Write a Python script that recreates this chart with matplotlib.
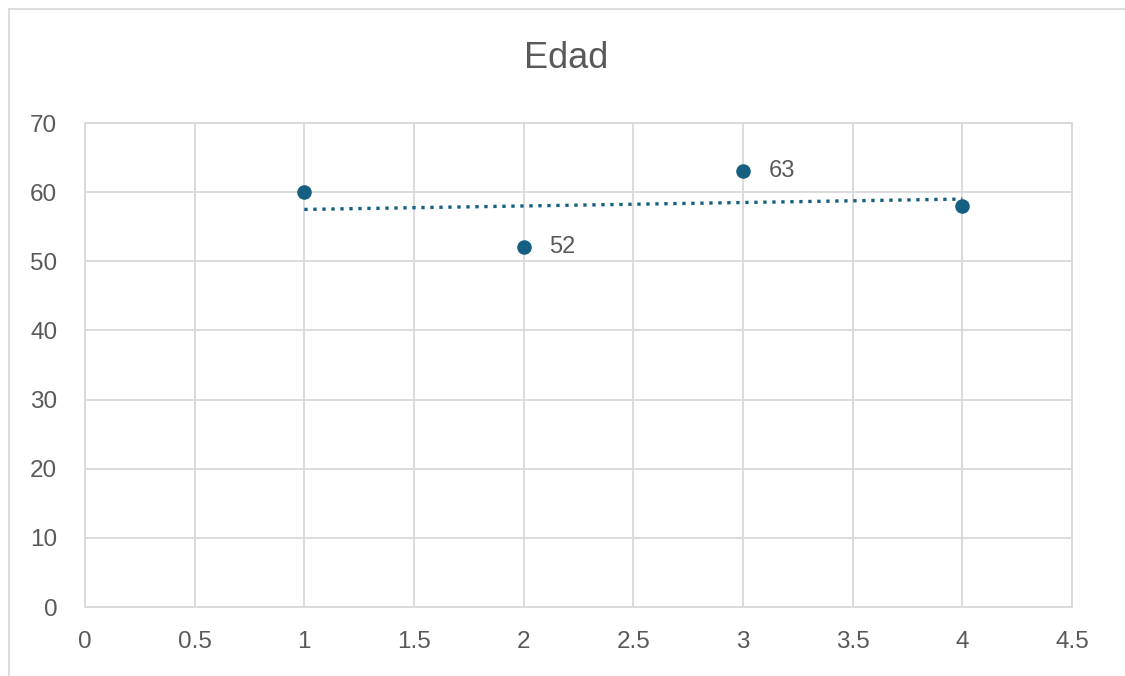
import matplotlib
matplotlib.use("Agg")
import matplotlib.pyplot as plt
from matplotlib.lines import Line2D
import numpy as np

plt.rcParams['font.family'] = ['Liberation Sans', 'DejaVu Sans']

title = "Edad"
x_vals = [1, 2, 3, 4]
y_vals = [60, 52, 63, 58]
labels = [None, "52", "63", None]
x_ticks = [0, 0.5, 1, 1.5, 2, 2.5, 3, 3.5, 4, 4.5]
x_tick_labels = ["0", "0.5", "1", "1.5", "2", "2.5", "3", "3.5", "4", "4.5"]
y_ticks = [0, 10, 20, 30, 40, 50, 60, 70]

color = "#156082"
text_color = "#595959"
grid_color = "#d9d9d9"

fig = plt.figure(figsize=(11.25, 6.76), dpi=100)
ax = fig.add_axes([85/1125, 1-607/676, (1072-85)/1125, (607-123)/676])

ax.scatter(x_vals, y_vals, s=110, color=color, zorder=3, linewidths=0)

# linear trendline
coef = np.polyfit(x_vals, y_vals, 1)
tx = np.array([min(x_vals), max(x_vals)])
ax.plot(tx, np.polyval(coef, tx), linestyle=(0, (1, 1.7)), color=color, lw=2.4, zorder=2)

for xv, yv, lab in zip(x_vals, y_vals, labels):
    if lab:
        ax.annotate(lab, (xv, yv), xytext=(18.5, 0), textcoords="offset points",
                    va="center", ha="left", fontsize=17, color=text_color)

ax.set_xlim(0, 4.5)
ax.set_ylim(0, 70)
ax.set_xticks(x_ticks)
ax.set_xticklabels(x_tick_labels)
ax.set_yticks(y_ticks)
ax.grid(True, color=grid_color, lw=1.3)
ax.set_axisbelow(True)
for s in ax.spines.values():
    s.set_color(grid_color)
    s.set_linewidth(1.3)
ax.tick_params(axis="both", length=0, labelsize=17.5, colors=text_color)
ax.tick_params(axis="y", pad=20)
ax.tick_params(axis="x", pad=17)

fig.text(566/1125, 1-59/676, title, ha="center", va="center", fontsize=26, color=text_color)

# outer chart border (left and top)
fig.add_artist(Line2D([9/1125, 9/1125], [0, 1-9/676], transform=fig.transFigure, color=grid_color, lw=1.3))
fig.add_artist(Line2D([9/1125, 1], [1-9/676, 1-9/676], transform=fig.transFigure, color=grid_color, lw=1.3))

fig.savefig("out.png", dpi=100)
